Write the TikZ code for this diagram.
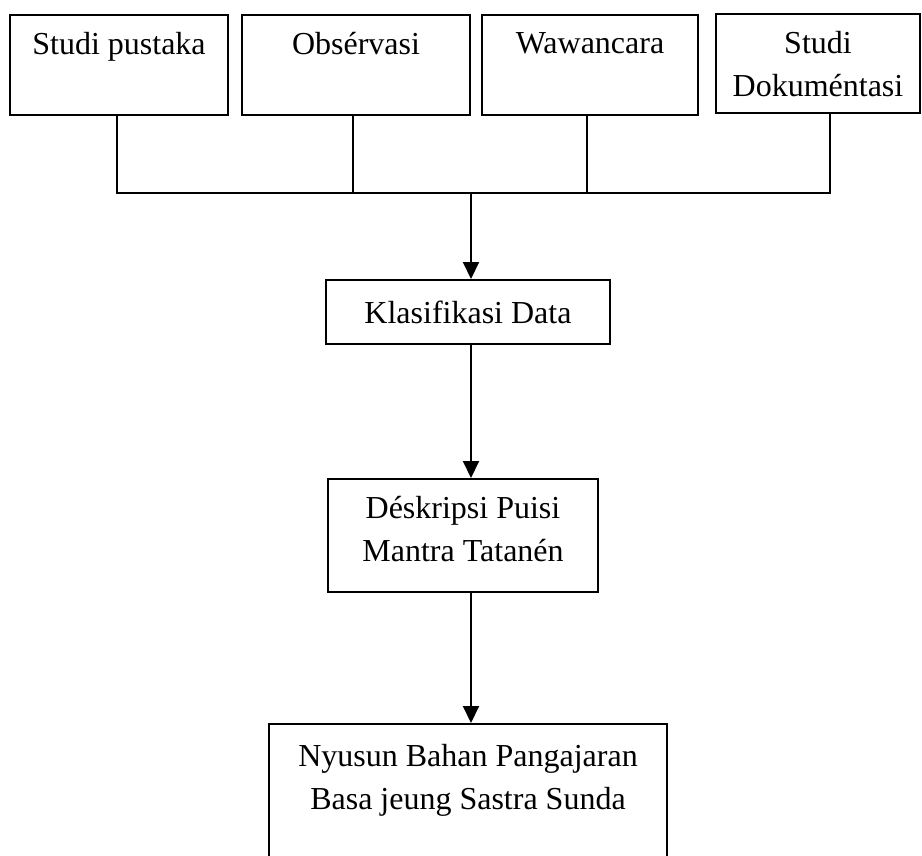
\documentclass[tikz,border=0pt]{standalone}
\usepackage{fontspec}
\setmainfont{Liberation Serif}
\usepackage{tikz}
\usetikzlibrary{positioning}
\usetikzlibrary{arrows.meta}

\begin{document}
\begin{tikzpicture}
		% ------- style -------
		\tikzset{%
			stepbox/.style={%
				draw, line width=1pt, align=center, inner sep=0pt,
				font=\fontsize{16}{21.5}\selectfont,
			},
			link/.style={line width=1pt},
			flow/.style={line width=1pt, -{Triangle[width=8pt,length=8.5pt]}},
		}
		
		% ------- frame -------
		\useasboundingbox (0,0) rectangle (461pt,-428pt);
		\clip (0,0) rectangle (461pt,-428pt);
		
		% ------- sources -------
		\node[stepbox, minimum width=109pt, minimum height=50pt] (pustaka) at (59.5pt,-32.5pt) {Studi pustaka\\\mbox{}};
		\node[stepbox, minimum width=114pt, minimum height=50pt] (observasi) [right = 6pt of pustaka] {Obsérvasi\\\mbox{}};
		\node[stepbox, minimum width=108pt, minimum height=50pt] (wawancara) [right = 5pt of observasi] {Wawancara\\\mbox{}};
		\node[stepbox, minimum width=102pt, minimum height=49.5pt] (dokumentasi) [right = 8pt of wawancara, yshift=0.6pt] {Studi\\Dokuméntasi};
		
		% ------- steps -------
		\node[stepbox, minimum width=142pt, minimum height=32pt] (klasifikasi) at (234pt,-156pt) {Klasifikasi Data};
		\node[stepbox, minimum width=135pt, minimum height=56.5pt, text depth=7pt] (deskripsi) [below = 66.5pt of klasifikasi, xshift=-2.5pt] {Déskripsi Puisi\\Mantra Tatanén};
		\node[stepbox, minimum width=199pt, minimum height=74pt] (bahan) [below = 65pt of deskripsi, xshift=2.5pt] {Nyusun Bahan Pangajaran\\Basa jeung Sastra Sunda\\\mbox{}};
		
		% ------- connectors -------
		\coordinate (bus) at (235.5pt,-96.5pt);
		\draw[link] ([xshift=-1pt]pustaka.south) |- (bus) -| ([xshift=6pt]dokumentasi.south);
		\draw[link] ([xshift=-1.5pt]observasi.south) -- ([xshift=-1.5pt]observasi.south |- bus);
		\draw[link] ([xshift=-1.5pt]wawancara.south) -- ([xshift=-1.5pt]wawancara.south |- bus);
		
		\draw[flow] (bus) -- (bus |- klasifikasi.north);
		\draw[flow] (bus |- klasifikasi.south) -- (bus |- deskripsi.north);
		\draw[flow] (bus |- deskripsi.south) -- (bus |- bahan.north);
	\end{tikzpicture}
\end{document}
